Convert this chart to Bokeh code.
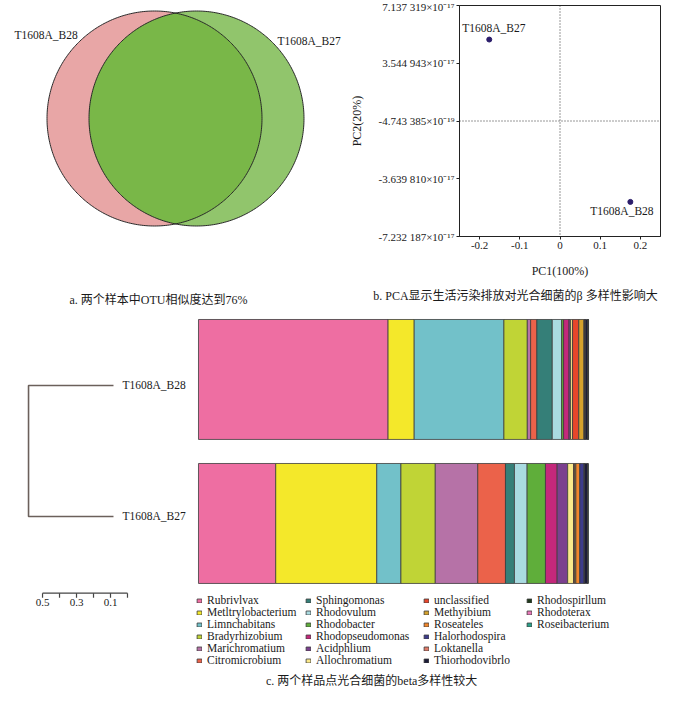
import numpy as np
from bokeh.plotting import figure
from bokeh.models import (Range1d, ColumnDataSource, Span, Label, FixedTicker,
                          CustomJSTickFormatter, Legend, LegendItem)
from bokeh.layouts import column, row
from bokeh.embed import file_html
from bokeh.resources import INLINE
from bokeh.core.properties import value

# ---------------- data ----------------
venn_names = ["T1608A_B28", "T1608A_B27"]
caption_a = "a. 两个样本中OTU相似度达到76%"

pca_names = ["T1608A_B27", "T1608A_B28"]
pc1 = [-0.176, 0.175]
pc2 = [5.02e-17, -5.08e-17]
y_ticks = [7.137319e-17, 3.544943e-17, -4.743385e-19, -3.639810e-17, -7.232187e-17]
y_tick_labels = ["7.137 319×10⁻¹⁷", "3.544 943×10⁻¹⁷", "-4.743 385×10⁻¹⁹",
                 "-3.639 810×10⁻¹⁷", "-7.232 187×10⁻¹⁷"]
x_ticks = [-0.2, -0.1, 0.0, 0.1, 0.2]
x_tick_labels = ["-0.2", "-0.1", "0", "0.1", "0.2"]
pc1_label = "PC1(100%)"
pc2_label = "PC2(20%)"
caption_b = "b. PCA显示生活污染排放对光合细菌的β 多样性影响大"

samples = ["T1608A_B28", "T1608A_B27"]
merge_height = 0.5
scale_ticks = [0.5, 0.4, 0.3, 0.2, 0.1, 0.0]
scale_labels = ["0.5", "", "0.3", "", "0.1", ""]

genera = ["Rubrivlvax", "Metltrylobacterium", "Limnchabitans", "Bradyrhizobium",
          "Marichromatium", "Citromicrobium", "Sphingomonas", "Rhodovulum",
          "Rhodobacter", "Rhodopseudomonas", "Acidphlium", "Allochromatium",
          "unclassified", "Methyibium", "Roseateles", "Halorhodospira",
          "Loktanella", "Thiorhodovibrlo", "Rhodospirllum", "Rhodoterax",
          "Roseibacterium"]
b28 = [48.6, 6.7, 23.0, 6.0, 0.85, 1.6, 3.95, 2.4, 0.5, 1.4, 0.4, 0.5,
       1.6, 1.3, 0.2, 0.1, 0.1, 0.6, 0.1, 0.05, 0.05]
b27 = [19.8, 25.9, 6.2, 8.8, 10.9, 7.1, 2.3, 3.25, 4.7, 3.0, 2.7, 1.5,
       0.3, 0.3, 1.0, 1.1, 0.1, 0.8, 0.05, 0.05, 0.05]
colors = ["#ee6ea2", "#f4e82a", "#72c1c9", "#c0d436", "#b672a7", "#eb624a",
          "#357f78", "#a9dbe1", "#5fae3a", "#c4287b", "#7b408e", "#fbe98a",
          "#e8462b", "#d4a12c", "#f2862a", "#3d3b8c", "#e07a68", "#1c1c38",
          "#203a1c", "#e878b8", "#2aa089"]
caption_c = "c. 两个样品点光合细菌的beta多样性较大"

SERIF = "Liberation Serif"
MIXED = "Liberation Serif, Noto Sans CJK SC"
TXT = "#1a1a1a"

# top-row borders (shared so that the row's aligned frames coincide)
TOP_B, BOT_B = 5, 48


def blank(fig):
    fig.axis.visible = False
    fig.grid.visible = False
    fig.outline_line_color = None
    fig.background_fill_color = "white"
    fig.border_fill_color = "white"
    return fig


# ---------------- Venn ----------------
# frame covers reference pixels x 8..350, y 13..244
venn = blank(figure(width=342, height=284, x_range=Range1d(8, 350), y_range=Range1d(244, 13),
                    output_backend="svg", toolbar_location=None, min_border_left=0,
                    min_border_right=0, min_border_top=TOP_B, min_border_bottom=BOT_B))
cx = [162.0, 204.0]
cy = 126.0
r = 107.5
t = np.linspace(0, 2 * np.pi, 361)
circ_xs = [list(c + r * np.cos(t)) for c in cx]
circ_ys = [list(cy + r * np.sin(t)) for _ in cx]
venn.patches(circ_xs, circ_ys, fill_color=["#e8a6a6", "#91c56c"], line_color=None)
d = cx[1] - cx[0]
th = np.arccos(d / 2 / r)
a1 = np.linspace(-th, th, 160)
a2 = np.linspace(np.pi - th, np.pi + th, 160)
lx = np.concatenate([cx[0] + r * np.cos(a1), cx[1] + r * np.cos(a2)])
ly = np.concatenate([cy + r * np.sin(a1), cy + r * np.sin(a2)])
venn.patch(lx, ly, fill_color="#79b748", line_color=None)
venn.patches(circ_xs, circ_ys, fill_color=None, line_color="#2a2a2a", line_width=1)
venn.text(x=[22, 285], y=[42, 48], text=venn_names, text_font=value(SERIF),
          text_font_size="11.5px", text_baseline="middle", text_color=TXT)

# ---------------- PCA ----------------
ymin, ymax = y_ticks[-1], y_ticks[0]
pca = figure(width=342, height=284, x_range=Range1d(-0.25, 0.25), y_range=Range1d(ymin, ymax),
             output_backend="svg", toolbar_location=None,
             min_border_left=117, min_border_right=24, min_border_top=TOP_B, min_border_bottom=BOT_B)
pca.grid.visible = False
pca.outline_line_color = "#222222"
pca.outline_line_width = 1
fmt_code = """
const i = vals.findIndex(v => Math.abs(v - tick) <= 1e-6 * Math.abs(v) + 1e-30);
return i >= 0 ? labels[i] : '';
"""
pca.xaxis.ticker = FixedTicker(ticks=x_ticks)
pca.xaxis.formatter = CustomJSTickFormatter(args=dict(vals=x_ticks, labels=x_tick_labels), code=fmt_code)
pca.yaxis.ticker = FixedTicker(ticks=y_ticks)
pca.yaxis.formatter = CustomJSTickFormatter(args=dict(vals=y_ticks, labels=y_tick_labels), code=fmt_code)
for ax in (pca.xaxis[0], pca.yaxis[0]):
    ax.minor_tick_line_color = None
    ax.major_tick_in = 0
    ax.major_tick_out = 3
    ax.major_label_standoff = 2
    ax.axis_line_color = "#222222"
    ax.major_tick_line_color = "#222222"
    ax.major_label_text_font = SERIF
    ax.major_label_text_font_size = "11px"
    ax.major_label_text_color = TXT
    ax.axis_label_text_font = SERIF
    ax.axis_label_text_font_size = "12px"
    ax.axis_label_text_font_style = "normal"
    ax.axis_label_text_color = TXT
    ax.axis_label_standoff = 12
pca.xaxis.axis_label = pc1_label
pca.yaxis.axis_label = pc2_label
pca.add_layout(Span(location=0, dimension="height", line_dash="1 2", line_color="#333333", line_width=1))
pca.add_layout(Span(location=y_ticks[2], dimension="width", line_dash="1 2", line_color="#333333", line_width=1))
psrc = ColumnDataSource(dict(x=pc1, y=pc2, name=pca_names, xo=[-27, -40], yo=[-12, 9]))
pca.scatter("x", "y", source=psrc, size=5, color="#2b1d6b")
pca.text("x", "y", text="name", source=psrc, x_offset="xo", y_offset="yo", text_font=value(SERIF),
         text_font_size="11.5px", text_baseline="middle", text_color=TXT)

# ---------------- caption strip (a, b) ----------------
caps = blank(figure(width=684, height=28, x_range=Range1d(8, 692), y_range=Range1d(320, 292),
                    output_backend="svg", toolbar_location=None, min_border=0))
caps.text(x=[166, 523], y=[307, 303], text=[caption_a, caption_b], text_font=value(MIXED),
          text_font_size="12px", text_align="center", text_baseline="middle", text_color=TXT)

# ---------------- dendrogram ----------------
dendro = blank(figure(width=192, height=379, x_range=Range1d(0.665, -0.465), y_range=Range1d(-1.336, 1.557),
                      output_backend="svg", toolbar_location=None, min_border=0))
leaf_y = [1, 0]
dendro.line(x=[0, merge_height, merge_height, 0], y=[leaf_y[0], leaf_y[0], leaf_y[1], leaf_y[1]],
            line_color="#6b605b", line_width=1.6)
dendro.text(x=[-0.053, -0.053], y=leaf_y, text=samples, text_font=value(SERIF),
            text_font_size="11.5px", text_baseline="middle", text_color=TXT)
off = -0.0824
sy = -0.5855
sxs = [v + off for v in scale_ticks]
dendro.line(x=[sxs[0], sxs[-1]], y=[sy, sy], line_color="#444444", line_width=1.2)
dendro.segment(x0=sxs, y0=[sy] * len(sxs), x1=sxs, y1=[sy - 0.035] * len(sxs),
               line_color="#444444", line_width=1.2)
dendro.text(x=sxs, y=[sy - 0.07] * len(sxs), text=scale_labels, text_font=value(SERIF),
            text_font_size="11px", text_align="center", text_baseline="middle", text_color=TXT)

# ---------------- stacked bars ----------------
bars = blank(figure(width=492, height=379, x_range=Range1d(-1.538, 124.6), y_range=Range1d(-1.1667, 1.465),
                    output_backend="svg", toolbar_location=None, min_border=0))
src = {"y": [1, 0]}
for i, g in enumerate(genera):
    src[g] = [b28[i], b27[i]]
source = ColumnDataSource(src)
rends = bars.hbar_stack(genera, y="y", height=0.833, fill_color=colors, line_color="#3c3c3c",
                        line_width=0.8, source=source)

# legend: 4 columns of up to 6 rows, each column its own Legend
col_x = [4, 113, 231, 334]
per_col = 6
for c, vx in enumerate(col_x):
    idx = list(range(c * per_col, min((c + 1) * per_col, len(genera))))
    items = [LegendItem(label=genera[i], renderers=[rends[i]]) for i in idx]
    vy = 25 + (per_col - len(idx)) * 12
    leg = Legend(items=items, location=(vx, vy), orientation="vertical",
                 glyph_width=6, glyph_height=5, label_standoff=5, spacing=0, padding=0,
                 margin=0, label_height=11, border_line_color=None, background_fill_alpha=0,
                 label_text_font=SERIF, label_text_font_size="11.5px", label_text_color=TXT)
    bars.add_layout(leg)

bars.add_layout(Label(x=44.4, y=-1.097, text=caption_c, text_font=MIXED, text_font_size="12px",
                      text_align="center", text_baseline="middle", text_color=TXT))

layout = column(row(venn, pca), caps, row(dendro, bars))
open("out.html", "w").write(file_html(layout, INLINE))
